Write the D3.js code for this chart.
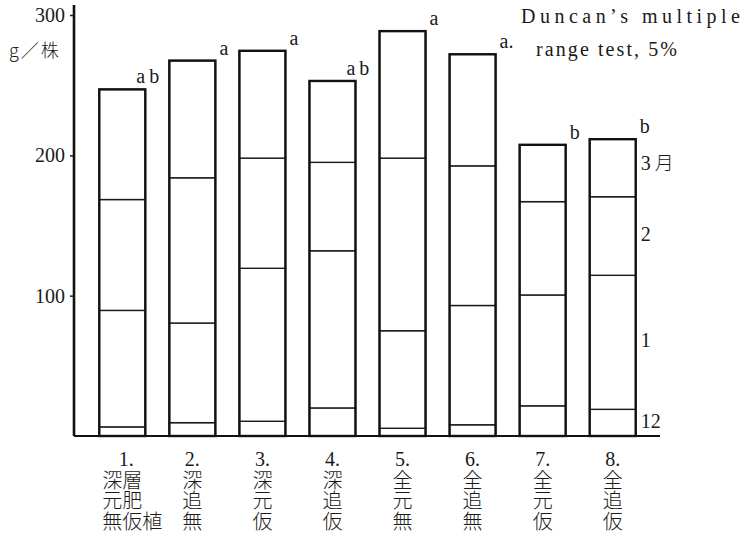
<!DOCTYPE html>
<html>
<head>
<meta charset="utf-8">
<script src="https://cdn.jsdelivr.net/npm/d3@7"></script>
<style>
  html, body { margin: 0; padding: 0; background: #fff; }
  svg { display: block; }
  .serif { font-family: "Liberation Serif", "DejaVu Serif", serif; fill: #1a1a1a; }
  .cjk { font-family: "Noto Sans CJK JP", sans-serif; fill: #1a1a1a; font-weight: 300; }
  .vert { writing-mode: vertical-rl; text-orientation: upright; }
</style>
</head>
<body>
<svg id="chart" width="746" height="537"></svg>
<script>
// Treatments (numbered plots) and their short Japanese descriptions
const categories = ["1.", "2.", "3.", "4.", "5.", "6.", "7.", "8."];
const treatmentLines = [
  ["深層", "元肥", "無仮植"],
  ["深", "追", "無"],
  ["深", "元", "仮"],
  ["深", "追", "仮"],
  ["全", "元", "無"],
  ["全", "追", "無"],
  ["全", "元", "仮"],
  ["全", "追", "仮"]
];

// Monthly growth increments (g per plant), stacked from December upward
const months = ["12", "1", "2", "3月"];
const decValues = [6.5, 9.5, 10.5, 20, 5.5, 8, 21.5, 19];
const janValues = [83, 71, 109, 112, 69.5, 85, 79, 95.5];
const febValues = [79, 103.5, 78.5, 63, 123, 99.5, 66.5, 56];
const marValues = [78.5, 83.5, 76.5, 58, 90.5, 79.5, 40.5, 41];

// Duncan's multiple range test groups
const sigLetters = ["ab", "a", "a", "ab", "a", "a.", "b", "b"];

// Y axis ticks
const yTicks = [100, 200, 300];

const svg = d3.select("#chart");

const table = categories.map((c, i) => ({
  cat: c,
  "12": decValues[i],
  "1": janValues[i],
  "2": febValues[i],
  "3月": marValues[i]
}));
const stacked = d3.stack().keys(months)(table);

const y = d3.scaleLinear().domain([0, 300]).range([436, 15]);
const x = d3.scaleBand().domain(categories).range([99.3, 635.7])
  .paddingInner(0.343).paddingOuter(0);

const axisX = 74;
const baseY = y(0);

// Y axis ticks and labels
const yAxis = d3.axisLeft(y).tickValues(yTicks).tickSize(4).tickPadding(5)
  .tickFormat(d3.format("d"));
const gy = svg.append("g").attr("transform", `translate(${axisX},0)`).call(yAxis);
gy.select(".domain").remove();
gy.selectAll(".tick line").attr("stroke", "#1a1a1a").attr("stroke-width", 1.5);
gy.selectAll(".tick text")
  .attr("class", "serif")
  .attr("font-family", "Liberation Serif, DejaVu Serif, serif")
  .attr("font-size", 20)
  .attr("fill", "#1a1a1a");

// axis spine and baseline
svg.append("line")
  .attr("x1", axisX).attr("x2", axisX)
  .attr("y1", 5).attr("y2", baseY)
  .attr("stroke", "#111").attr("stroke-width", 2.6);
svg.append("line")
  .attr("x1", axisX).attr("x2", 660)
  .attr("y1", baseY).attr("y2", baseY)
  .attr("stroke", "#111").attr("stroke-width", 2);

// unit label
svg.append("text").attr("class", "cjk")
  .attr("x", 9).attr("y", 57).attr("font-size", 18).attr("letter-spacing", 2)
  .text("g／株");

// stacked monthly segments
const layers = svg.append("g");
stacked.forEach(layer => {
  layers.selectAll(null).data(layer).enter().append("rect")
    .attr("x", d => x(d.data.cat))
    .attr("width", x.bandwidth())
    .attr("y", d => y(d[1]))
    .attr("height", d => y(d[0]) - y(d[1]))
    .attr("fill", "#fff")
    .attr("stroke", "#1a1a1a")
    .attr("stroke-width", 1.4);
});

// heavier bar outlines
const totals = table.map(r => months.reduce((s, m) => s + r[m], 0));
svg.append("g").selectAll("rect").data(categories).enter().append("rect")
  .attr("x", d => x(d))
  .attr("width", x.bandwidth())
  .attr("y", (d, i) => y(totals[i]))
  .attr("height", (d, i) => baseY - y(totals[i]))
  .attr("fill", "none")
  .attr("stroke", "#111")
  .attr("stroke-width", 2.4);

// significance letters above each bar
svg.append("g").selectAll("text").data(sigLetters).enter().append("text")
  .attr("class", "serif")
  .attr("font-size", 20)
  .attr("letter-spacing", d => d === "ab" ? 4 : 0)
  .attr("x", (d, i) => x(categories[i]) + x.bandwidth() + (d === "ab" ? -9 : 4))
  .attr("y", (d, i) => y(totals[i]) - 6)
  .text(d => d);

// month labels beside the last bar, at the middle of each segment
const last = categories.length - 1;
const monthLabelX = x(categories[last]) + x.bandwidth() + 5;
svg.append("g").selectAll("text").data(stacked).enter().append("text")
  .attr("class", "serif")
  .attr("font-size", 20)
  .attr("x", monthLabelX)
  .attr("y", d => (y(d[last][0]) + y(d[last][1])) / 2 - (d.key.endsWith("月") ? 5 : 2))
  .attr("dy", "0.35em")
  .each(function(d) {
    const t = d3.select(this);
    const key = d.key;
    if (key.endsWith("月")) {
      t.append("tspan").text(key.slice(0, -1));
      t.append("tspan").attr("class", "cjk").attr("dx", 4).attr("font-size", 19).text("月");
    } else {
      t.text(key);
    }
  });

// category labels beneath the axis: the number, then the description set
// in vertical columns (one column per character position of the rows)
const catG = svg.append("g");
const charStep = 20;
const colTop = 470;
categories.forEach((c, i) => {
  const cx = x(c) + x.bandwidth() / 2;
  const lines = treatmentLines[i];
  const left = cx - lines[0].length * charStep / 2;
  catG.append("text").attr("class", "serif")
    .attr("font-size", 20).attr("text-anchor", "middle")
    .attr("x", cx + (i === 0 ? 4 : 0)).attr("y", 466)
    .text(c);
  const nCols = d3.max(lines, l => l.length);
  for (let k = 0; k < nCols; k++) {
    // characters in column k, with the row they belong to
    const rows = lines.map((l, j) => ({ ch: l[k], j })).filter(r => r.ch);
    const startRow = rows[0].j;
    catG.append("text").attr("class", "cjk vert")
      .attr("font-size", 20)
      .attr("letter-spacing", 0.5)
      .attr("x", left + charStep * k + charStep / 2)
      .attr("y", colTop + startRow * 20.5)
      .text(rows.map(r => r.ch).join(""));
  }
});

// test note, top right
svg.append("text").attr("class", "serif")
  .attr("font-size", 20)
  .attr("x", 521).attr("y", 23)
  .attr("textLength", 219).attr("lengthAdjust", "spacing")
  .text("Duncan’s multiple");
svg.append("text").attr("class", "serif")
  .attr("font-size", 20)
  .attr("x", 536).attr("y", 56)
  .attr("textLength", 141).attr("lengthAdjust", "spacing")
  .text("range test, 5%");
</script>
</body>
</html>
